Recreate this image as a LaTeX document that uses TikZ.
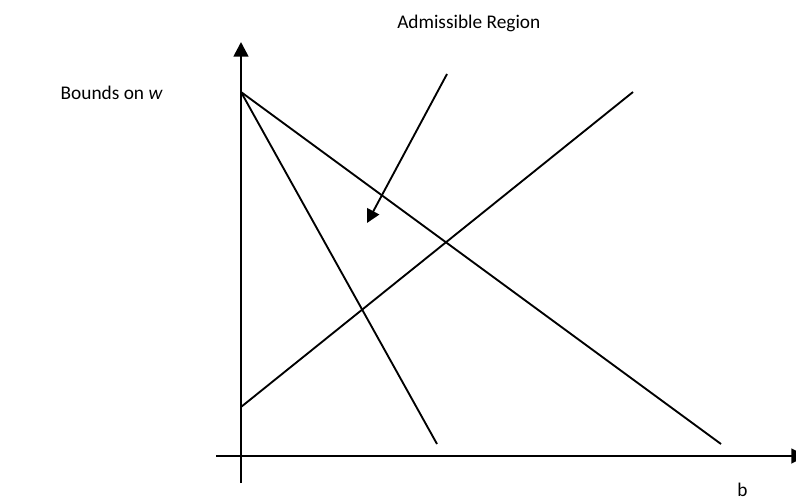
\documentclass[tikz,border=0pt]{standalone}
\usepackage{fontspec}
\setmainfont{Carlito}
\usetikzlibrary{arrows.meta}

\begin{document}
\begin{tikzpicture}[
    x=0.75pt,
    y=-0.75pt,
    >={Triangle[length=11pt, width=11pt]},
    axis/.style={line width=2pt},
    bound/.style={line width=1.4pt},
    label/.style={font=\fontsize{14.5}{17}\selectfont, inner sep=0pt}
]
\useasboundingbox (0,0) rectangle (796,499);

% points
\coordinate (top) at (241,92);
\coordinate (ybot) at (241,483);
\coordinate (ytip) at (241,42);
\coordinate (xleft) at (216,456);
\coordinate (xtip) at (806,456);
\coordinate (steepend) at (437,444);
\coordinate (fallend) at (721,444);
\coordinate (risestart) at (241,407);
\coordinate (riseend) at (633,92);
\coordinate (arrowstart) at (447,74);
\coordinate (arrowtip) at (367,223);

% axes
\draw[axis, ->] (ybot) -- (ytip);
\draw[axis, ->] (xleft) -- (xtip);

% bounds
\draw[bound] (top) -- (steepend);
\draw[bound] (top) -- (fallend);
\draw[bound] (risestart) -- (riseend);

% pointer into region
\draw[bound, ->, >={Triangle[length=10pt, width=10pt]}] (arrowstart) -- (arrowtip);

% labels
\node[label, anchor=base west] (region) at (397,29) {Admissible Region};
\node[label, anchor=base east] (wlabel) at (163,100) {Bounds on \textit{w}};
\node[label, anchor=base west] (blabel) at (737,496) {b};
\end{tikzpicture}
\end{document}
